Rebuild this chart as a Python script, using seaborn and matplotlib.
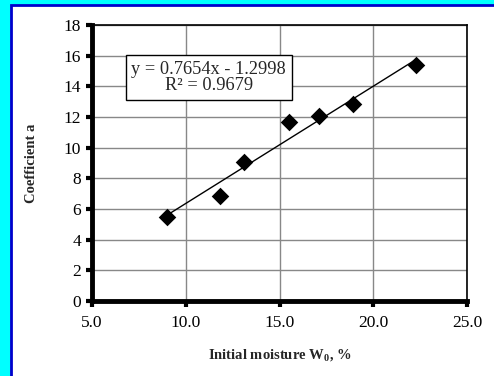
import matplotlib
matplotlib.use("Agg")
import matplotlib.pyplot as plt
from matplotlib.patches import Rectangle
import seaborn as sns
import pandas as pd

# moisture (%) vs coefficient a
moisture = [9.0, 11.8, 13.1, 15.5, 17.1, 18.9, 22.3]
coef_a = [5.5, 6.85, 9.05, 11.65, 12.05, 12.85, 15.4]
x_ticks = [5.0, 10.0, 15.0, 20.0, 25.0]
y_ticks = [0, 2, 4, 6, 8, 10, 12, 14, 16, 18]
fit_text = "y = 0.7654x - 1.2998\nR² = 0.9679"

df = pd.DataFrame({"W0": moisture, "a": coef_a})

sns.set_style("white")
plt.rcParams["font.family"] = ["Liberation Serif", "DejaVu Serif"]
plt.rcParams["mathtext.fontset"] = "custom"
plt.rcParams["mathtext.rm"] = "Liberation Serif"
plt.rcParams["mathtext.bf"] = "Liberation Serif:bold"

W, H = 494, 376
fig = plt.figure(figsize=(W / 100, H / 100), dpi=100)
fig.patch.set_facecolor("#00FFFF")

# white panel with blue frame (runs past the right/bottom edges)
panel = Rectangle((11.3 / W, -0.05), 1.1, 1 - 5.3 / H + 0.05,
                  transform=fig.transFigure, facecolor="white",
                  edgecolor="#0000CC", linewidth=2.0, zorder=0)
fig.patches.append(panel)

ax = fig.add_axes([92 / W, 1 - 301 / H, (467 - 92) / W, (301 - 25) / H])
ax.set_zorder(2)
ax.set_facecolor("white")

sns.regplot(data=df, x="W0", y="a", scatter=False, ci=None, truncate=True,
            line_kws={"color": "black", "linewidth": 1.0}, ax=ax)
sns.scatterplot(data=df, x="W0", y="a", marker="D", s=80, color="black",
                edgecolor="black", linewidth=0, zorder=5, ax=ax)

ax.set_xlim(5, 25)
ax.set_ylim(0, 18)
ax.set_xticks(x_ticks)
ax.set_xticklabels([f"{t:.1f}" for t in x_ticks])
ax.set_yticks(y_ticks)
ax.grid(True, color="#888888", linewidth=1.0)
ax.set_axisbelow(True)

for side in ["left", "bottom"]:
    ax.spines[side].set_linewidth(3.5)
    ax.spines[side].set_color("black")
for side in ["top", "right"]:
    ax.spines[side].set_linewidth(1.2)
    ax.spines[side].set_color("black")

ax.tick_params(axis="both", direction="out", length=4, width=3,
               labelsize=12.5, colors="black", pad=4, left=True, bottom=True)
ax.tick_params(axis="x", pad=6)

ax.set_xlabel("Initial moisture W$_\\mathbf{0}$, %", fontsize=10.5,
              fontweight="bold", labelpad=12)
ax.set_ylabel("Coefficient a", fontsize=10.5, fontweight="bold", labelpad=18)

ax.text((125.7 + 291.7) / 2 / W, 1 - 77.5 / H, fit_text, ha="center",
        va="center", fontsize=13.2, linespacing=1.0, zorder=10,
        transform=fig.transFigure,
        bbox=dict(boxstyle="square,pad=0.3", facecolor="white",
                  edgecolor="black", linewidth=1.0))

fig.savefig("out.png", dpi=100, facecolor=fig.get_facecolor())
